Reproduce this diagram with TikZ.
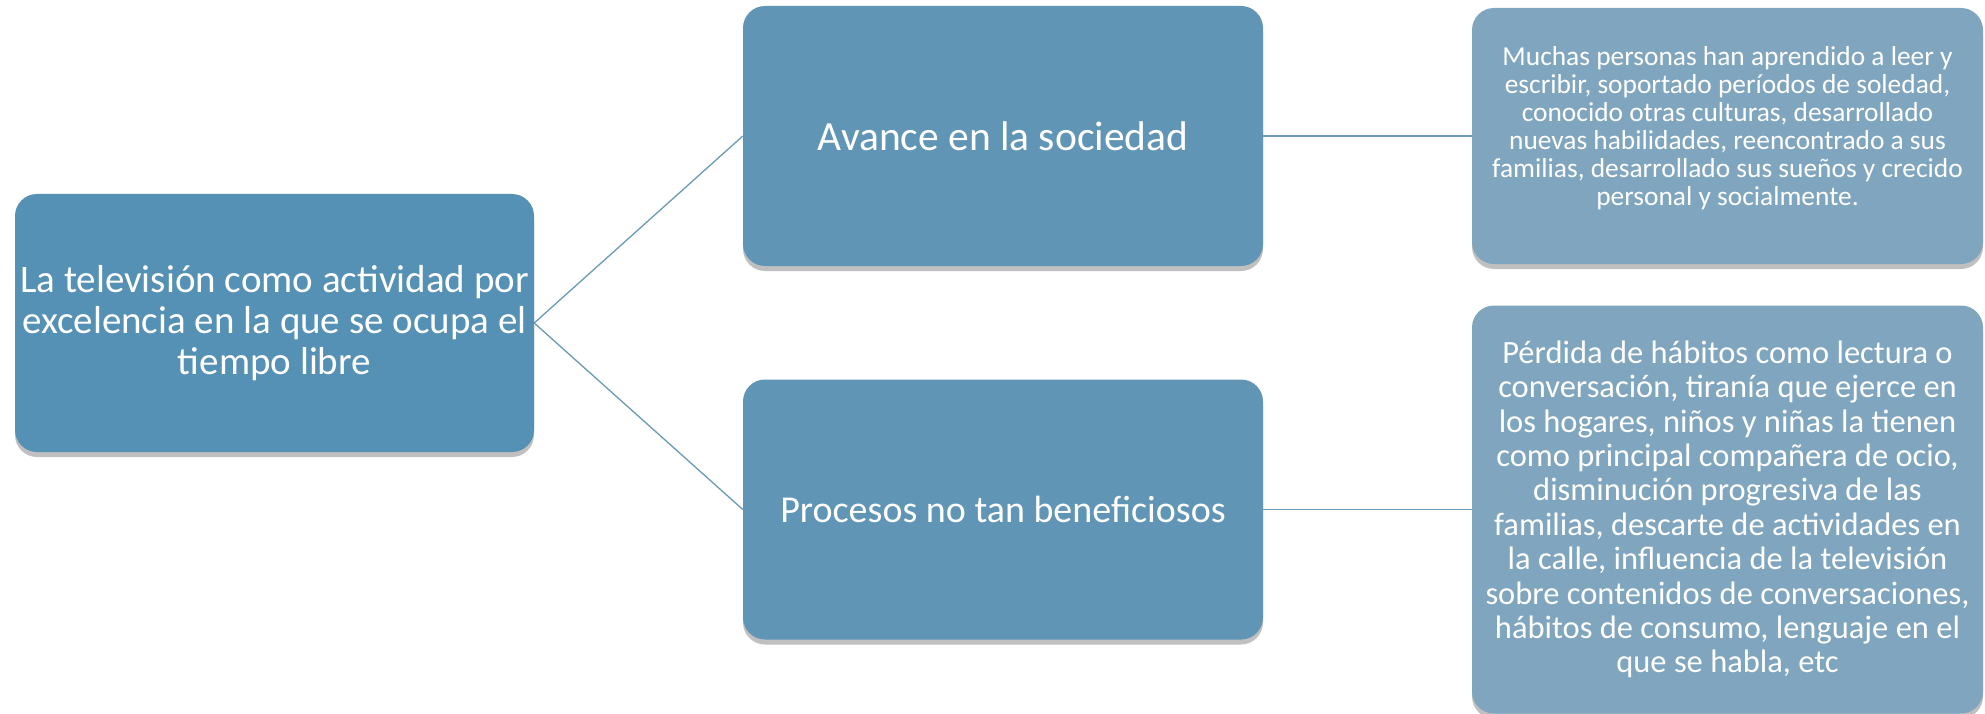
\documentclass[tikz,border=0pt]{standalone}
\usepackage{fontspec}
\setmainfont{Carlito}
\usetikzlibrary{shadows}
\definecolor{cmain}{HTML}{5590B5}
\definecolor{cmid}{HTML}{6195B5}
\definecolor{cright}{HTML}{80A6BF}
\definecolor{cline}{HTML}{6A9AB8}
\tikzset{
  boxbase/.style={rectangle, rounded corners=22pt, draw=none, text=white, align=flush center, inner sep=0pt,
    drop shadow={shadow xshift=0pt, shadow yshift=-5pt, opacity=0.35, fill=black!70}},
  mainbox/.style={boxbase, fill=cmain, minimum width=519pt, minimum height=258pt, text width=522pt, inner xsep=-1.5pt},
  midbox/.style={boxbase, fill=cmid, minimum width=520pt, minimum height=260pt, text width=505pt},
  rightbox/.style={boxbase, fill=cright, minimum width=511pt, text width=520pt, inner xsep=-4.5pt},
  conn/.style={draw=cline, line width=1.3pt}
}
\begin{document}
\begin{tikzpicture}[x=1pt,y=-1pt]
\useasboundingbox[fill=white] (0,0) rectangle (1985,714);
\node[mainbox, font=\fontsize{39}{41}\selectfont] (root) at (274.5,323)
  {La televisión como actividad por\\ excelencia en la que se ocupa el\\ tiempo libre};
\node[midbox, font=\fontsize{41.5}{46}\selectfont] (avance) at (1003,136) {Avance en la sociedad};
\node[midbox, font=\fontsize{38}{44}\selectfont] (procesos) at (1003,509.5) {Procesos no tan beneficiosos};
\node[rightbox, minimum height=256pt, font=\fontsize{27.4}{28}\selectfont] (muchas) at (1727.5,136)
  {Muchas personas han aprendido a leer y\\ escribir, soportado períodos de soledad,\\ conocido otras culturas, desarrollado\\ nuevas habilidades, reencontrado a sus\\ familias, desarrollado sus sueños y crecido\\ personal y socialmente.\par\vspace*{16pt}};
\node[rightbox, minimum height=408pt, font=\fontsize{32.5}{34.4}\selectfont] (perdida) at (1727.5,509.5)
  {Pérdida de hábitos como lectura o\\ conversación, tiranía que ejerce en\\ los hogares, niños y niñas la tienen\\ como principal compañera de ocio,\\ disminución progresiva de las\\ familias, descarte de actividades en\\ la calle, influencia de la televisión\\ sobre contenidos de conversaciones,\\ hábitos de consumo, lenguaje en el\\ que se habla, etc};
\draw[conn] (root.east) -- (avance.west);
\draw[conn] (root.east) -- (procesos.west);
\draw[conn] (avance.east) -- (muchas.west);
\draw[conn] (procesos.east) -- (perdida.west);
\end{tikzpicture}
\end{document}
